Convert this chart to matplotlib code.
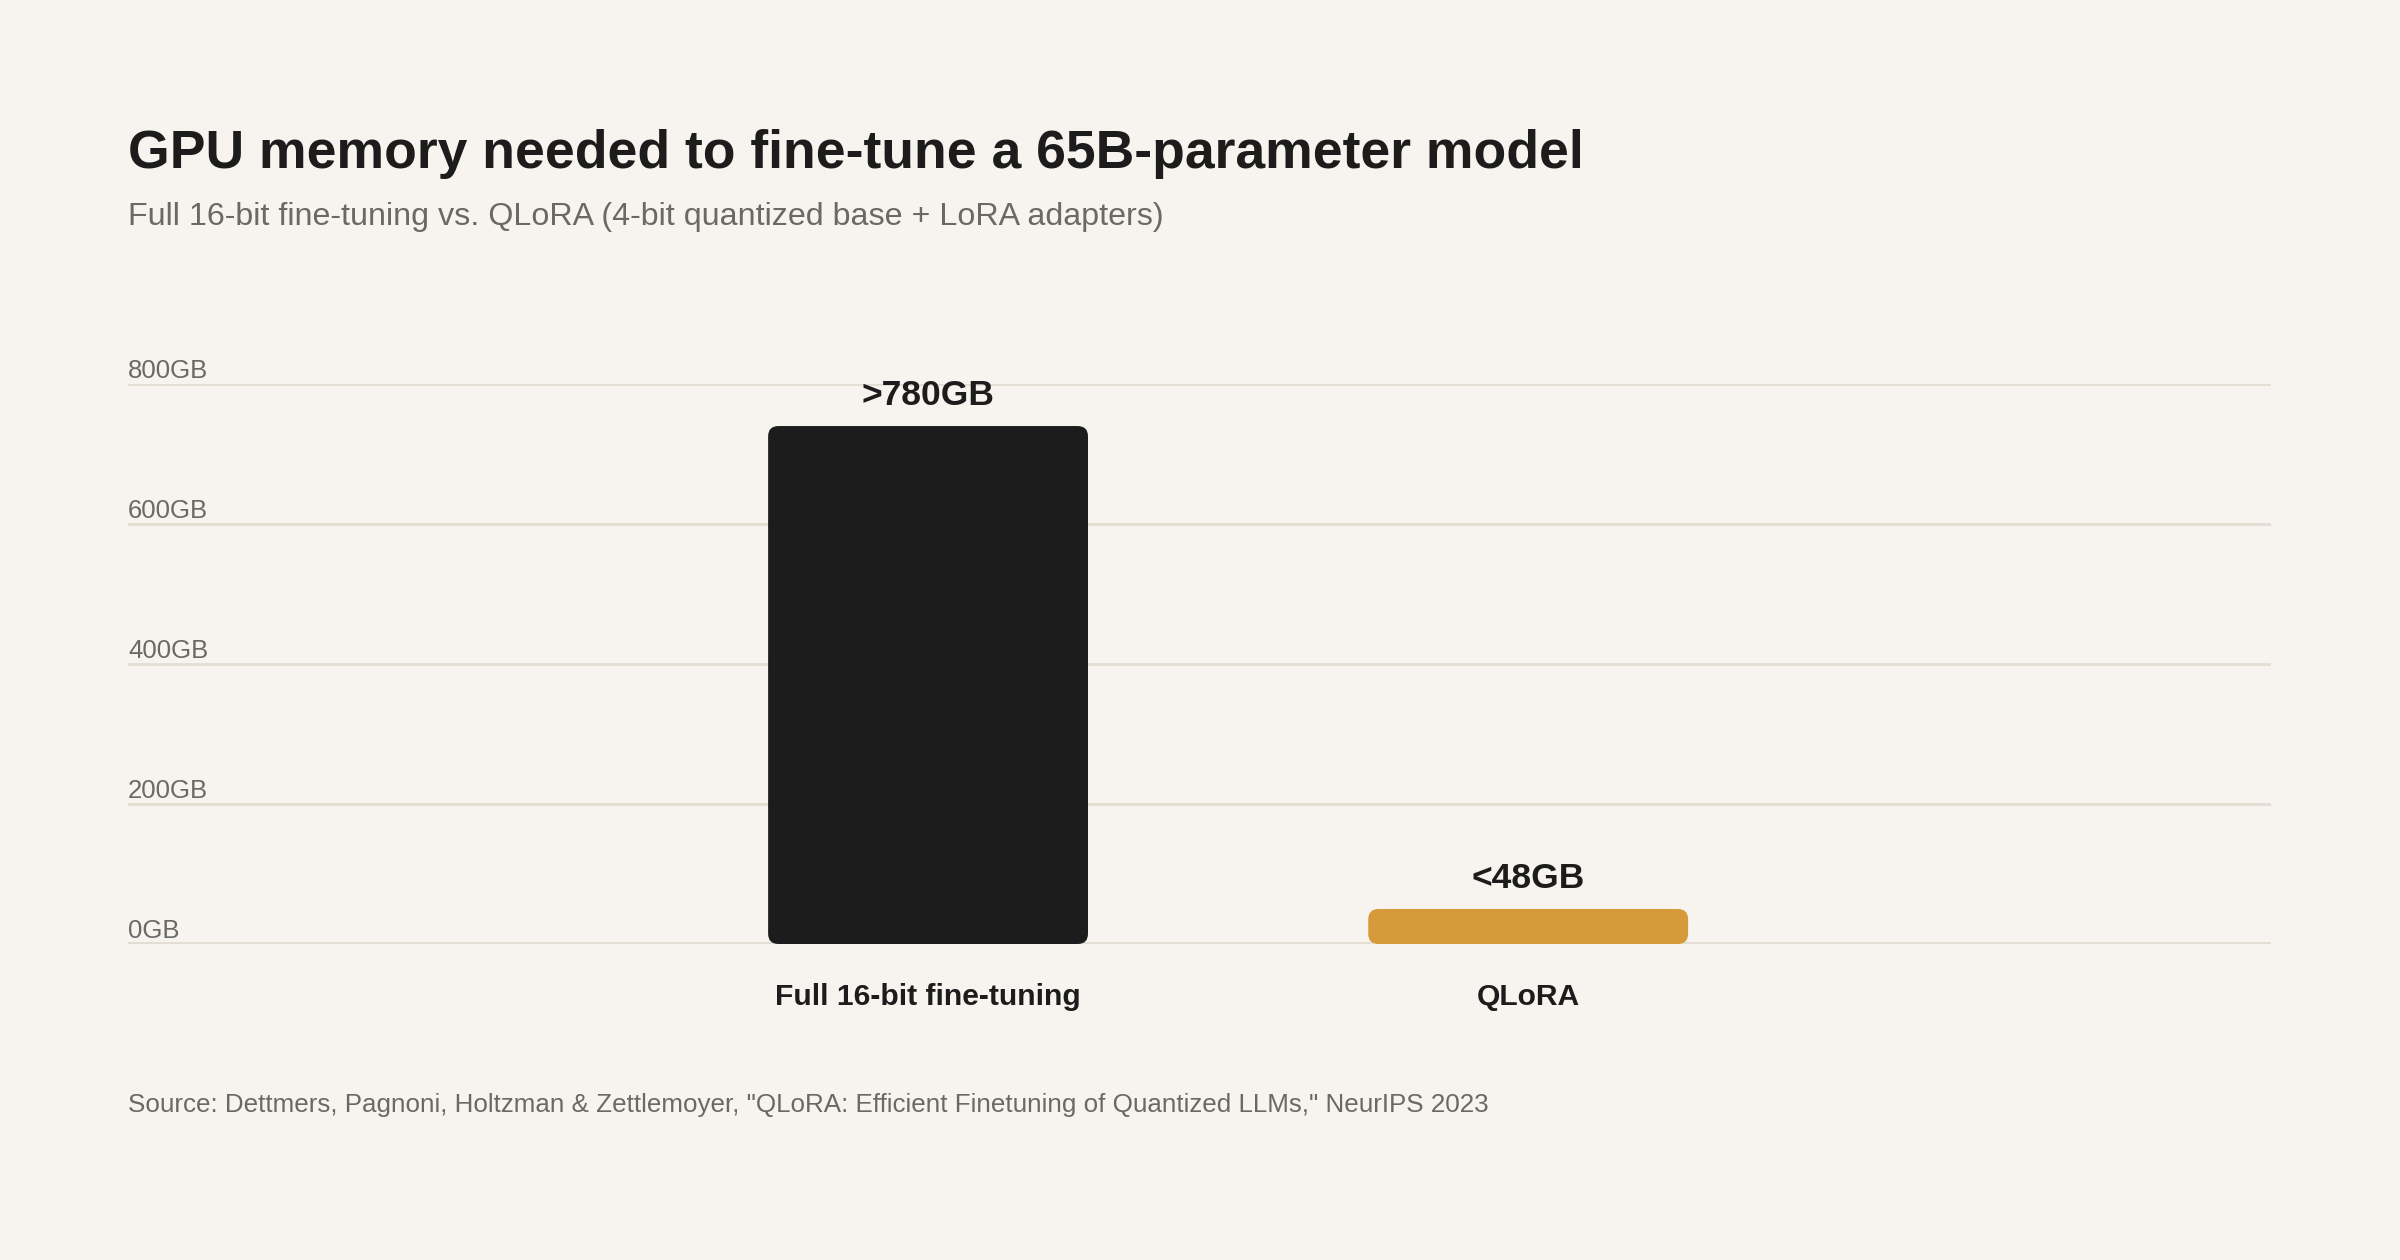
import matplotlib
matplotlib.use("Agg")
import matplotlib.pyplot as plt
from matplotlib.patches import FancyBboxPatch
from matplotlib.transforms import blended_transform_factory

# Datos
categorias = ["Full 16-bit fine-tuning", "QLoRA"]
memoria_gb = [740, 50]
etiquetas_valor = [">780GB", "<48GB"]
ticks_gb = [0, 200, 400, 600, 800]
ticks_txt = ["0GB", "200GB", "400GB", "600GB", "800GB"]
colores = ["#1c1c1c", "#d69a3a"]

fondo = "#f7f4ef"
gris = "#6b6963"
negro = "#1c1c1c"
rejilla = "#e4ddd4"

plt.rcParams["font.family"] = ["Liberation Sans", "DejaVu Sans"]

fig = plt.figure(figsize=(24, 12.6), dpi=100, facecolor=fondo)
ax = fig.add_axes([0.0533, 0.2508, 0.893, 0.4444], facecolor=fondo)

x = list(range(len(categorias)))
barras = ax.bar(x, memoria_gb, width=0.533, color=colores)

# Esquinas redondeadas
for b, c in zip(barras, colores):
    bx, by = b.get_x(), b.get_y()
    bw, bh = b.get_width(), b.get_height()
    b.remove()
    ax.add_patch(FancyBboxPatch((bx, by), bw, bh,
                                boxstyle="round,pad=0,rounding_size=0.017",
                                mutation_aspect=857, facecolor=c,
                                edgecolor="none", zorder=3))

ax.set_xlim(-1.3333, 2.238)
ax.set_ylim(0, 800)
ax.set_xticks([])
ax.set_yticks([])
for s in ax.spines.values():
    s.set_visible(False)

for t in ticks_gb:
    ax.axhline(t, color=rejilla, lw=3.5 if t == 0 else 2, zorder=1)

trans = blended_transform_factory(ax.transAxes, ax.transData)
for t, txt in zip(ticks_gb, ticks_txt):
    ax.annotate(txt, (0, t), xycoords=trans, xytext=(0, 4.5),
                textcoords="offset points", fontsize=18.5, color=gris,
                ha="left", va="baseline")

for i, (v, lab) in enumerate(zip(memoria_gb, etiquetas_valor)):
    ax.annotate(lab, (i, v), xytext=(0, 15), textcoords="offset points",
                ha="center", va="baseline", fontsize=25.5,
                fontweight="bold", color=negro)
    ax.annotate(categorias[i], (i, 0), xytext=(0, -44),
                textcoords="offset points", ha="center", va="baseline",
                fontsize=21.6, fontweight="bold", color=negro,
                annotation_clip=False)

fig.text(0.0533, 0.8667, "GPU memory needed to fine-tune a 65B-parameter model",
         fontsize=38.5, fontweight="bold", color=negro, va="baseline")
fig.text(0.0533, 0.8214,
         "Full 16-bit fine-tuning vs. QLoRA (4-bit quantized base + LoRA adapters)",
         fontsize=23.2, color=gris, va="baseline")
fig.text(0.0533, 0.1175,
         'Source: Dettmers, Pagnoni, Holtzman & Zettlemoyer, "QLoRA: Efficient '
         'Finetuning of Quantized LLMs," NeurIPS 2023',
         fontsize=18.7, color=gris, va="baseline")

fig.savefig("out.png", dpi=100, facecolor=fondo)
